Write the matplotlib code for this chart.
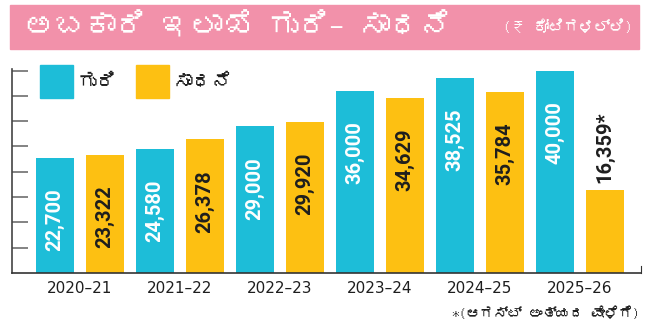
import matplotlib
matplotlib.use("Agg")
import matplotlib.pyplot as plt
from matplotlib import font_manager, ft2font
from matplotlib.patches import Rectangle

years = ["2020–21", "2021–22", "2022–23", "2023–24", "2024–25", "2025–26"]
target = [22700, 24580, 29000, 36000, 38525, 40000]
achieved = [23322, 26378, 29920, 34629, 35784, 16359]
achieved_labels = ["23,322", "26,378", "29,920", "34,629", "35,784", "16,359*"]

CYAN = "#1DBDD8"
YELLOW = "#FDC012"
PINK = "#F291AA"
DARK = "#1E1E1E"


def family_with(ch):
    """First installed family that has a glyph for ch."""
    seen = set()
    for f in font_manager.fontManager.ttflist:
        if f.fname in seen:
            continue
        seen.add(f.fname)
        try:
            if ord(ch) in ft2font.FT2Font(f.fname).get_charmap():
                return f.name
        except Exception:
            pass
    return None


kn = family_with("ಗ")
KN = ([kn] if kn else []) + ["DejaVu Sans"]
NUM = ["Roboto", "DejaVu Sans"]
NARROW = ["Liberation Sans Narrow", "DejaVu Sans"]

fig = plt.figure(figsize=(6.53, 3.30), dpi=100)
W, H = 653, 330

# title banner
fig.patches.append(Rectangle((10 / W, 1 - 49 / H), 629 / W, 44 / H,
                             transform=fig.transFigure, color=PINK, zorder=0))
fig.text(24 / W, 1 - 27 / H, "ಅಬಕಾರಿ ಇಲಾಖೆ ಗುರಿ– ಸಾಧನೆ", family=KN,
         fontsize=22, fontweight="bold", color="white", va="center", ha="left")
fig.text(633 / W, 1 - 27 / H, "(₹ ಕೋಟಿಗಳಲ್ಲಿ)", family=KN,
         fontsize=11, color="white", va="center", ha="right")

ax = fig.add_axes([12 / W, 57 / H, 629 / W, 204 / H])

n = len(years)
xs_t = [2 * i for i in range(n)]
xs_a = [2 * i + 1 for i in range(n)]
bw = 0.76
ax.bar(xs_t, target, width=bw, color=CYAN, zorder=2)
ax.bar(xs_a, achieved, width=bw, color=YELLOW, zorder=2)

# value labels, vertical
for x, v in zip(xs_t, target):
    ax.annotate(f"{v:,}", (x, v), xytext=(0, -22), textcoords="offset points",
                rotation=90, ha="center", va="top", color="white",
                family=NUM, fontweight="bold", fontsize=14.5)
for x, v, lab in zip(xs_a, achieved, achieved_labels):
    if lab.endswith("*"):
        ax.annotate(lab, (x, v), xytext=(0, 5), textcoords="offset points",
                    rotation=90, ha="center", va="bottom", color=DARK,
                    family=NUM, fontweight="bold", fontsize=14.5)
    else:
        ax.annotate(lab, (x, v), xytext=(0, -22), textcoords="offset points",
                    rotation=90, ha="center", va="top", color=DARK,
                    family=NUM, fontweight="bold", fontsize=14.5)

ax.set_xlim(-0.86, 2 * n - 1 + 0.72)
ax.set_ylim(0, 40300)

ax.set_xticks([2 * i + 0.5 for i in range(n)])
ax.set_xticklabels(years, family=NARROW, fontsize=11, color=DARK)
ax.tick_params(axis="x", length=0, pad=6)

ax.set_yticks(range(5000, 40001, 5000))
ax.set_yticklabels([])
ax.tick_params(axis="y", direction="in", length=11.5, width=1.2, color="#6E6E6E")

ax.spines["top"].set_visible(False)
ax.spines["left"].set_color("#444444")
ax.spines["bottom"].set_color("#333333")
ax.spines["right"].set_color("#333333")
ax.spines["right"].set_bounds(0, 1400)
ax.spines["left"].set_linewidth(1.2)
ax.spines["bottom"].set_linewidth(1.2)

# legend
for x0, col, lab in [(40, CYAN, "ಗುರಿ"), (136, YELLOW, "ಸಾಧನೆ")]:
    fig.patches.append(Rectangle((x0 / W, 1 - 98 / H), 33 / W, 33 / H,
                                 transform=fig.transFigure, color=col, zorder=5))
    fig.text((x0 + 38) / W, 1 - 82 / H, lab, family=KN, fontsize=14,
             color=DARK, va="center", ha="left", zorder=6)

fig.text(640 / W, 1 - 313 / H, "*(ಆಗಸ್ಟ್ ಅಂತ್ಯದ ವೇಳೆಗೆ)", family=KN,
         fontsize=10, color=DARK, ha="right", va="center")

fig.savefig("out.png", dpi=100)
